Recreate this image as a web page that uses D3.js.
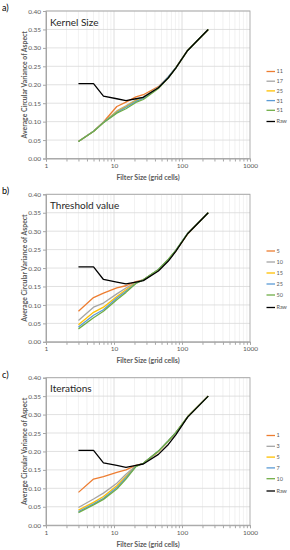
<!DOCTYPE html>
<html>
<head>
<meta charset="utf-8">
<script src="https://cdn.jsdelivr.net/npm/d3@7"></script>
<style>
  body { margin: 0; background: #fff; }
  svg text { font-family: Lato, "Open Sans", sans-serif; }
</style>
</head>
<body>
<div id="chart"></div>
<script>
// filter sizes (x) shared by every series
var filterSizes = [3, 5, 7, 11, 15, 21, 27, 45, 63, 81, 121, 243];
var rawValues   = [0.203, 0.203, 0.169, 0.162, 0.157, 0.162, 0.166, 0.192, 0.219, 0.245, 0.293, 0.35];

var kernelLabels = ['11', '17', '25', '31', '51'];
var kernel11 = [0.046, 0.074, 0.099, 0.141, 0.153, 0.167, 0.173, 0.195, 0.221, 0.246, 0.293, 0.35];
var kernel17 = [0.046, 0.074, 0.098, 0.129, 0.143, 0.159, 0.167, 0.193, 0.220, 0.246, 0.293, 0.35];
var kernel25 = [0.046, 0.074, 0.098, 0.127, 0.141, 0.157, 0.165, 0.192, 0.220, 0.246, 0.293, 0.35];
var kernel31 = [0.046, 0.074, 0.098, 0.125, 0.139, 0.155, 0.163, 0.192, 0.222, 0.246, 0.293, 0.35];
var kernel51 = [0.046, 0.073, 0.097, 0.123, 0.135, 0.152, 0.160, 0.190, 0.219, 0.245, 0.293, 0.35];

var thresholdLabels = ['5', '10', '15', '25', '50'];
var thresh5  = [0.083, 0.120, 0.132, 0.146, 0.152, 0.163, 0.168, 0.195, 0.222, 0.247, 0.293, 0.35];
var thresh10 = [0.058, 0.094, 0.105, 0.130, 0.146, 0.161, 0.168, 0.195, 0.222, 0.247, 0.293, 0.35];
var thresh15 = [0.046, 0.080, 0.094, 0.123, 0.141, 0.160, 0.168, 0.195, 0.223, 0.247, 0.293, 0.35];
var thresh25 = [0.040, 0.072, 0.087, 0.119, 0.137, 0.159, 0.168, 0.196, 0.223, 0.248, 0.294, 0.35];
var thresh50 = [0.035, 0.065, 0.083, 0.114, 0.134, 0.158, 0.168, 0.196, 0.224, 0.248, 0.294, 0.35];

var iterLabels = ['1', '3', '5', '7', '10'];
var iter1  = [0.089, 0.125, 0.132, 0.143, 0.150, 0.162, 0.168, 0.200, 0.228, 0.250, 0.294, 0.35];
var iter3  = [0.048, 0.071, 0.087, 0.114, 0.138, 0.161, 0.168, 0.200, 0.228, 0.250, 0.294, 0.35];
var iter5  = [0.041, 0.062, 0.078, 0.107, 0.132, 0.160, 0.168, 0.200, 0.228, 0.251, 0.294, 0.35];
var iter7  = [0.037, 0.058, 0.073, 0.102, 0.129, 0.160, 0.168, 0.201, 0.229, 0.251, 0.294, 0.35];
var iter10 = [0.034, 0.055, 0.070, 0.098, 0.125, 0.159, 0.168, 0.201, 0.229, 0.251, 0.294, 0.35];

var xTicks = [1, 10, 100, 1000];
var yTicks = [0, 0.05, 0.10, 0.15, 0.20, 0.25, 0.30, 0.35, 0.40];
var colors = ['#ED7D31', '#A5A5A5', '#FFC000', '#5B9BD5', '#70AD47'];

var panels = [
  {tag: 'a)', title: 'Kernel Size', labels: kernelLabels,
   series: [kernel11, kernel17, kernel25, kernel31, kernel51], top: 11, legTop: 71.5, legGap: 9.7},
  {tag: 'b)', title: 'Threshold value', labels: thresholdLabels,
   series: [thresh5, thresh10, thresh15, thresh25, thresh50], top: 194.3, legTop: 251, legGap: 11},
  {tag: 'c)', title: 'Iterations', labels: iterLabels,
   series: [iter1, iter3, iter5, iter7, iter10], top: 377.7, legTop: 435.5, legGap: 10.8}
];

var svg = d3.select('#chart').append('svg')
  .attr('width', 290)
  .attr('height', 550);

var left = 46, right = 250, plotH = 147.5;

var x = d3.scaleLog().domain([1, 1000]).range([left, right]);

// minor log ticks 1..9, 10..90, 100..900
var minorTicks = [];
[1, 10, 100].forEach(function(dec) {
  for (var i = 2; i <= 9; i++) minorTicks.push(dec * i);
});

panels.forEach(function(p) {
  var y = d3.scaleLinear().domain([0, 0.4]).range([p.top + plotH, p.top]);
  var g = svg.append('g');

  // grid
  g.selectAll('.vminor').data(minorTicks).enter().append('line')
    .attr('x1', d => x(d)).attr('x2', d => x(d))
    .attr('y1', p.top).attr('y2', p.top + plotH)
    .attr('stroke', '#ececec').attr('stroke-width', 0.7);
  g.selectAll('.vmajor').data([10, 100]).enter().append('line')
    .attr('x1', d => x(d)).attr('x2', d => x(d))
    .attr('y1', p.top).attr('y2', p.top + plotH)
    .attr('stroke', '#d6d6d6').attr('stroke-width', 0.8);
  g.selectAll('.hgrid').data(yTicks.slice(1)).enter().append('line')
    .attr('x1', left).attr('x2', right)
    .attr('y1', d => y(d)).attr('y2', d => y(d))
    .attr('stroke', '#d9d9d9').attr('stroke-width', 0.8);

  // plot frame
  g.append('rect')
    .attr('x', left).attr('y', p.top)
    .attr('width', right - left).attr('height', plotH)
    .attr('fill', 'none').attr('stroke', '#a6a6a6').attr('stroke-width', 0.9);

  // axes
  var xAxis = d3.axisBottom(x).tickValues(xTicks.concat(minorTicks))
    .tickFormat(d => xTicks.indexOf(d) >= 0 ? d : '')
    .tickSize(3).tickPadding(2);
  var xg = g.append('g')
    .attr('transform', `translate(0,${p.top + plotH})`)
    .call(xAxis);
  xg.select('.domain').attr('stroke', '#a6a6a6');
  xg.selectAll('.tick line').attr('stroke', '#a6a6a6');
  xg.selectAll('text').attr('fill', '#595959').style('font-size', '6.5px');

  var yAxis = d3.axisLeft(y).tickValues(yTicks)
    .tickFormat(d3.format('.2f')).tickSize(3).tickPadding(2);
  var yg = g.append('g')
    .attr('transform', `translate(${left},0)`)
    .call(yAxis);
  yg.select('.domain').attr('stroke', '#a6a6a6');
  yg.selectAll('.tick line').attr('stroke', '#a6a6a6');
  yg.selectAll('text').attr('fill', '#595959').style('font-size', '6.5px');

  // axis titles
  g.append('text')
    .attr('x', (left + right) / 2)
    .attr('y', p.top + plotH + 21.5)
    .attr('text-anchor', 'middle')
    .attr('fill', '#595959')
    .style('font-size', '7px').style('font-weight', 'bold')
    .text('Filter Size (grid cells)');
  g.append('text')
    .attr('transform', `translate(26.5,${p.top + plotH / 2}) rotate(-90)`)
    .attr('text-anchor', 'middle')
    .attr('fill', '#595959')
    .style('font-size', '6.8px').style('font-weight', 'bold')
    .text('Average Circular Variance of Aspect');

  // panel tag and title
  g.append('text')
    .attr('x', 2).attr('y', p.top)
    .attr('fill', '#000')
    .style('font-size', '9px')
    .text(p.tag);
  g.append('text')
    .attr('x', 50).attr('y', p.top + 14.5)
    .attr('fill', '#262626')
    .style('font-size', '10px')
    .text(p.title);

  // lines
  var line = d3.line()
    .x((d, i) => x(filterSizes[i]))
    .y(d => y(d));

  p.series.forEach(function(s, i) {
    g.append('path')
      .datum(s)
      .attr('d', line)
      .attr('fill', 'none')
      .attr('stroke', colors[i])
      .attr('stroke-width', 1.3)
      .attr('stroke-linejoin', 'round');
  });
  g.append('path')
    .datum(rawValues)
    .attr('d', line)
    .attr('fill', 'none')
    .attr('stroke', '#000')
    .attr('stroke-width', 1.3)
    .attr('stroke-linejoin', 'round');

  // legend
  var legItems = p.labels.map((l, i) => ({label: l, color: colors[i]}));
  legItems.push({label: 'Raw', color: '#000'});
  legItems.forEach(function(d, i) {
    var ly = p.legTop + i * p.legGap + (i === 5 ? 1.5 : 0);
    g.append('line')
      .attr('x1', 266.5).attr('x2', 275)
      .attr('y1', ly).attr('y2', ly)
      .attr('stroke', d.color).attr('stroke-width', 1.3);
    g.append('text')
      .attr('x', 276.5).attr('y', ly)
      .attr('dy', '0.35em')
      .attr('fill', '#595959')
      .style('font-size', '5.5px')
      .text(d.label);
  });
});
</script>
</body>
</html>
